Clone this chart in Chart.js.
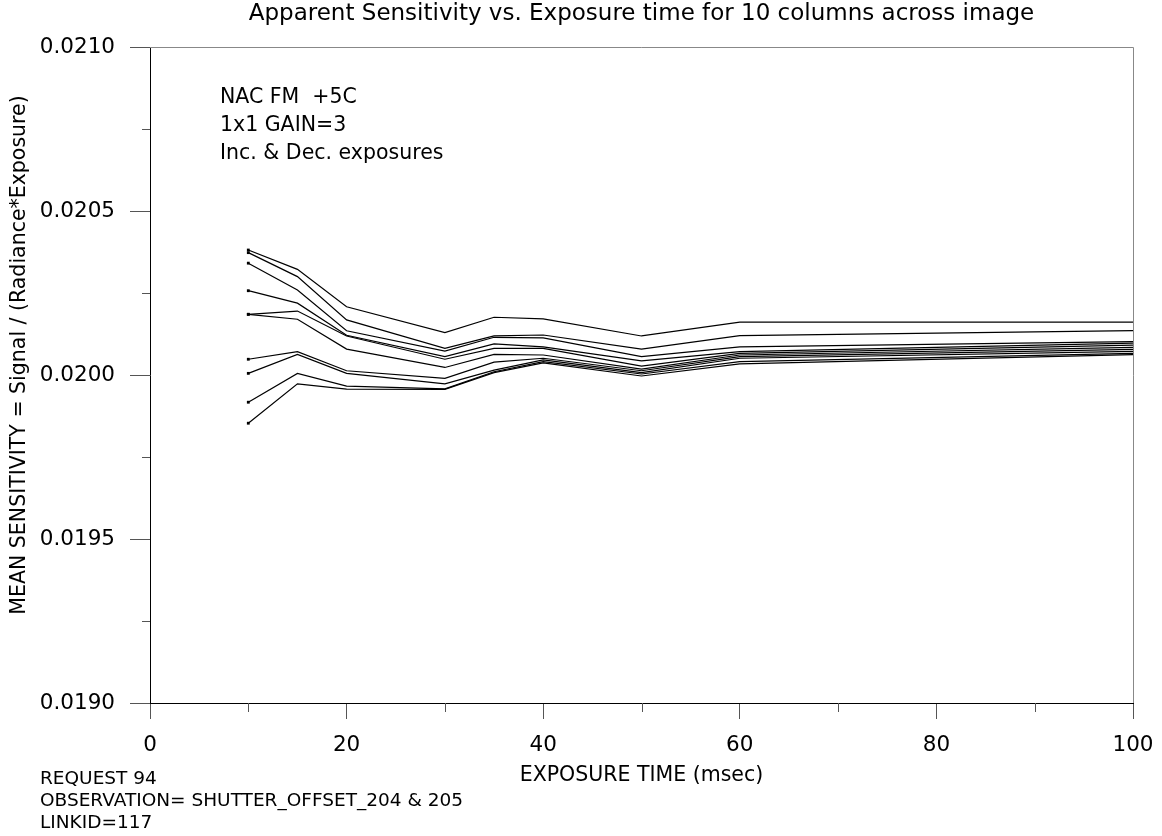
<!DOCTYPE html>
<html>
<head>
<meta charset="utf-8">
<script src="https://cdn.jsdelivr.net/npm/chart.js@4.4.0/dist/chart.umd.min.js"></script>
<style>
  html, body { margin: 0; padding: 0; background: #fff; }
  #wrap { width: 1162px; height: 836px; }
</style>
</head>
<body>
<div id="wrap"><canvas id="sensChart" width="1162" height="836"></canvas></div>
<script>
// exposure times (msec)
const exposures = [10, 15, 20, 30, 35, 40, 50, 60, 100];

// mean sensitivity for 10 columns across the image
const col1  = [0.020381, 0.020322, 0.020208, 0.020129, 0.020176, 0.020171, 0.020119, 0.020161, 0.020161];
const col2  = [0.020373, 0.020300, 0.020168, 0.020081, 0.020119, 0.020122, 0.020079, 0.020120, 0.020135];
const col3  = [0.020341, 0.020259, 0.020135, 0.020073, 0.020115, 0.020113, 0.020056, 0.020086, 0.020102];
const col4  = [0.020257, 0.020219, 0.020121, 0.020056, 0.020095, 0.020086, 0.020043, 0.020071, 0.020097];
const col5  = [0.020185, 0.020195, 0.020119, 0.020048, 0.020081, 0.020081, 0.020027, 0.020066, 0.020091];
const col6  = [0.020185, 0.020170, 0.020079, 0.020023, 0.020063, 0.020061, 0.020018, 0.020061, 0.020084];
const col7  = [0.020048, 0.020071, 0.020013, 0.019990, 0.020039, 0.020051, 0.020013, 0.020056, 0.020078];
const col8  = [0.020005, 0.020063, 0.020005, 0.019973, 0.020015, 0.020046, 0.020007, 0.020051, 0.020072];
const col9  = [0.019917, 0.020005, 0.019966, 0.019958, 0.020010, 0.020041, 0.020003, 0.020041, 0.020066];
const col10 = [0.019853, 0.019973, 0.019957, 0.019956, 0.020007, 0.020037, 0.019997, 0.020034, 0.020062];

const yTickLabels = ['0.0190', '0.0195', '0.0200', '0.0205', '0.0210'];
const xTickLabels = ['0', '20', '40', '60', '80', '100'];

const titleText = 'Apparent Sensitivity vs. Exposure time for 10 columns across image';
const notes = ['NAC FM  +5C', '1x1 GAIN=3', 'Inc. & Dec. exposures'];
const footer = ['REQUEST 94', 'OBSERVATION= SHUTTER_OFFSET_204 & 205', 'LINKID=117'];
const xTitle = 'EXPOSURE TIME (msec)';
const yTitle = 'MEAN SENSITIVITY = Signal / (Radiance*Exposure)';

const FONT = 'DejaVu Sans, Verdana, sans-serif';

const columns = [col1, col2, col3, col4, col5, col6, col7, col8, col9, col10];
const datasets = columns.map((c, i) => ({
    label: 'col ' + (i + 1),
    data: exposures.map((x, j) => ({ x: x, y: c[j] })),
    borderColor: '#000',
    borderWidth: 1.2,
    tension: 0,
    fill: false,
    pointStyle: 'rect',
    pointRadius: exposures.map((x, j) => j === 0 ? 2 : 0),
    pointBackgroundColor: '#000',
    pointBorderColor: '#000',
    pointBorderWidth: 0
}));

// texts, frame and minor ticks
const decor = {
    id: 'decor',
    afterDraw(chart) {
        const ctx = chart.ctx;
        const a = chart.chartArea;
        const xs = chart.scales.x, ys = chart.scales.y;
        ctx.save();
        // top / right frame
        ctx.strokeStyle = '#888';
        ctx.lineWidth = 1;
        ctx.beginPath();
        ctx.moveTo(a.left, a.top + 0.5); ctx.lineTo(a.right + 0.5, a.top + 0.5);
        ctx.lineTo(a.right + 0.5, a.bottom);
        ctx.stroke();
        // minor ticks
        ctx.strokeStyle = '#555';
        ctx.beginPath();
        for (let v = 0.01925; v < 0.0210; v += 0.0005) {
            const py = Math.round(ys.getPixelForValue(v)) + 0.5;
            ctx.moveTo(a.left - 8, py); ctx.lineTo(a.left, py);
        }
        for (let v = 10; v < 100; v += 20) {
            const px = Math.round(xs.getPixelForValue(v)) + 0.5;
            ctx.moveTo(px, a.bottom); ctx.lineTo(px, a.bottom + 9);
        }
        ctx.stroke();

        ctx.fillStyle = '#000';
        ctx.textBaseline = 'middle';
        ctx.textAlign = 'center';
        ctx.font = '23px ' + FONT;
        ctx.fillText(titleText, (a.left + a.right) / 2, 14);
        ctx.font = '20.5px ' + FONT;
        ctx.fillText(xTitle, (a.left + a.right) / 2, 776);
        ctx.save();
        ctx.translate(20, 355);
        ctx.rotate(-Math.PI / 2);
        ctx.fillText(yTitle, 0, 0);
        ctx.restore();
        ctx.textAlign = 'left';
        ctx.font = '20.5px ' + FONT;
        notes.forEach((t, i) => ctx.fillText(t, 220, 98 + i * 28));
        ctx.font = '18.5px ' + FONT;
        footer.forEach((t, i) => ctx.fillText(t, 40, 779 + i * 22));
        ctx.restore();
    }
};

new Chart(document.getElementById('sensChart'), {
    type: 'line',
    data: { datasets: datasets },
    options: {
        responsive: false,
        animation: false,
        layout: { padding: { left: 0, right: 29, top: 47, bottom: 0 } },
        plugins: { legend: { display: false }, tooltip: { enabled: false }, title: { display: false } },
        scales: {
            x: {
                type: 'linear',
                min: 0, max: 100,
                afterBuildTicks: s => { s.ticks = xTickLabels.map(t => ({ value: Number(t) })); },
                afterFit: s => { s.height = 133; s.paddingLeft = 0; s.paddingRight = 0; },
                ticks: { color: '#000', font: { family: FONT, size: 21.5 }, padding: 14, maxRotation: 0, autoSkip: false,
                         callback: v => xTickLabels.find(t => Number(t) === v) },
                grid: { drawOnChartArea: false, tickLength: 16, color: '#555' },
                border: { color: '#000', width: 1 }
            },
            y: {
                type: 'linear',
                min: 0.0190, max: 0.0210,
                afterBuildTicks: s => { s.ticks = yTickLabels.map(t => ({ value: Number(t) })); },
                afterFit: s => { s.width = 150; s.paddingTop = 0; s.paddingBottom = 0; },
                ticks: { color: '#000', font: { family: FONT, size: 21.5 }, padding: 15, autoSkip: false,
                         callback: v => yTickLabels.find(t => Math.abs(Number(t) - v) < 1e-9) },
                grid: { drawOnChartArea: false, tickLength: 20, color: '#555' },
                border: { color: '#000', width: 1 }
            }
        }
    },
    plugins: [decor]
});
</script>
</body>
</html>
